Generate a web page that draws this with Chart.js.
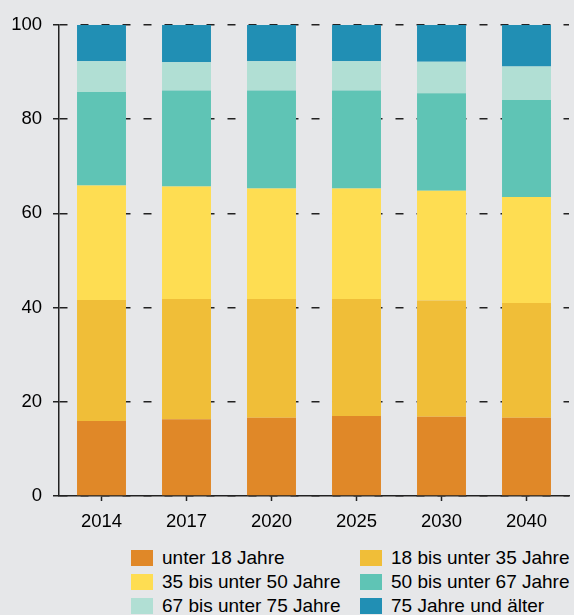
<!DOCTYPE html>
<html>
<head>
<meta charset="utf-8">
<script src="https://cdn.jsdelivr.net/npm/chart.js@4.4.1/dist/chart.umd.min.js"></script>
<style>
  body { margin: 0; background: #e6e7e9; font-family: "Liberation Sans", Arial, sans-serif; }
  #wrap { position: relative; width: 574px; height: 535px; }
  #legend { position: relative; width: 574px; height: 80px; }
  .lg-item { position: absolute; display: flex; align-items: center; font-size: 19px; color: #000; white-space: nowrap; }
  .lg-box { width: 22px; height: 16px; margin-right: 9px; }
</style>
</head>
<body>
<div id="wrap"><canvas id="chart"></canvas></div>
<div id="legend"></div>

<script>
// categories
const years = ['2014', '2017', '2020', '2025', '2030', '2040'];

// age group shares in percent (stacked)
const unter18 = [15.9, 16.3, 16.6, 17.0, 16.8, 16.6];
const von18bis35 = [25.7, 25.5, 25.2, 24.8, 24.7, 24.4];
const von35bis50 = [24.3, 23.9, 23.5, 23.5, 23.3, 22.5];
const von50bis67 = [19.9, 20.4, 20.8, 20.8, 20.7, 20.6];
const von67bis75 = [6.5, 6.0, 6.2, 6.2, 6.7, 7.1];
const ab75 = [7.7, 7.9, 7.7, 7.7, 7.8, 8.8];

const seriesLabels = [
  'unter 18 Jahre', '18 bis unter 35 Jahre', '35 bis unter 50 Jahre',
  '50 bis unter 67 Jahre', '67 bis unter 75 Jahre', '75 Jahre und älter'
];
const seriesColors = ['#e08828', '#f0be38', '#fedd52', '#5fc4b5', '#b1dfd4', '#218fb4'];
const seriesData = [unter18, von18bis35, von35bis50, von50bis67, von67bis75, ab75];

const yTicks = [0, 20, 40, 60, 80, 100];

const FONT = { family: '"Liberation Sans", Arial, sans-serif', size: 18.5 };
const AXIS = '#222';

new Chart(document.getElementById('chart'), {
  type: 'bar',
  data: {
    labels: years,
    datasets: seriesData.map((d, i) => ({
      label: seriesLabels[i],
      data: d,
      backgroundColor: seriesColors[i],
      borderWidth: 0,
      barPercentage: 0.576,
      categoryPercentage: 1
    }))
  },
  options: {
    responsive: true,
    maintainAspectRatio: false,
    animation: false,
    layout: { padding: { top: 25, right: 5, left: 0, bottom: 0 } },
    plugins: { legend: { display: false }, tooltip: { enabled: false } },
    scales: {
      x: {
        stacked: true,
        afterFit: s => { s.height = 39; },
        grid: { display: true, drawOnChartArea: false, offset: false, tickLength: 5, tickColor: AXIS, tickWidth: 1.5 },
        border: { display: true, color: AXIS, width: 1.5 },
        ticks: { color: '#000', font: FONT, padding: 10 }
      },
      y: {
        stacked: true,
        min: 0,
        max: 100,
        afterFit: s => { s.width = 59; },
        afterBuildTicks: s => { s.ticks = yTicks.map(v => ({ value: v })); },
        grid: { color: AXIS, lineWidth: 1.5, tickLength: 6, tickColor: AXIS, tickWidth: 1.5 },
        border: { display: true, color: AXIS, width: 1.5, dash: [8, 13] },
        ticks: { color: '#000', font: FONT, padding: 11 }
      }
    }
  }
});

// legend in two columns
const legend = document.getElementById('legend');
seriesLabels.forEach((lab, i) => {
  const col = i % 2, row = Math.floor(i / 2);
  const el = document.createElement('div');
  el.className = 'lg-item';
  el.style.left = (col ? 360 : 131) + 'px';
  el.style.top = (23 + row * 24 - 12) + 'px';
  el.style.height = '24px';
  el.innerHTML = `<div class="lg-box" style="background:${seriesColors[i]}"></div><span>${lab}</span>`;
  legend.appendChild(el);
});
</script>
</body>
</html>
